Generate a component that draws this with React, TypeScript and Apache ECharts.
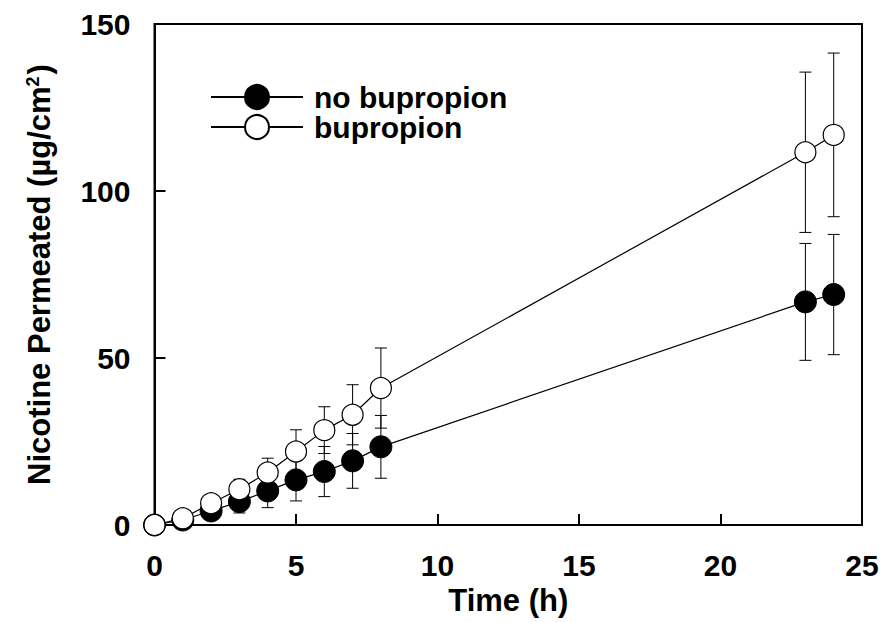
import React, { useEffect, useRef } from "react";
import * as echarts from "echarts";

const times = [0, 1, 2, 3, 4, 5, 6, 7, 8, 23, 24];
const noBupropion = [0, 1.5, 4.2, 7, 10.2, 13.5, 16, 19.2, 23.4, 66.8, 69];
const noBupropionErr = [0, 0.5, 1.5, 3.4, 5, 6.3, 7.5, 8.2, 9.4, 17.5, 18];
const bupropion = [0, 2, 6.5, 10.7, 15.7, 22, 28.4, 33, 41, 111.6, 116.8];
const bupropionErr = [0, 0.5, 1.5, 3, 4.3, 6.5, 7, 9, 12, 24, 24.5];
const xTicks = [0, 5, 10, 15, 20, 25];
const yTicks = [0, 50, 100, 150];

const FONT = "'Liberation Sans', Arial, sans-serif";

function errSeries(vals: number[], errs: number[]) {
  return {
    type: "custom",
    z: 1,
    silent: true,
    data: times.map((t, i) => [t, vals[i] - errs[i], vals[i] + errs[i]]),
    renderItem: (params: any, api: any) => {
      const x = api.value(0);
      const lo = api.coord([x, api.value(1)]);
      const hi = api.coord([x, api.value(2)]);
      const cw = 6;
      const style = { stroke: "#000", lineWidth: 1 };
      return {
        type: "group",
        children: [
          { type: "line", shape: { x1: lo[0], y1: lo[1], x2: hi[0], y2: hi[1] }, style },
          { type: "line", shape: { x1: lo[0] - cw, y1: lo[1], x2: lo[0] + cw, y2: lo[1] }, style },
          { type: "line", shape: { x1: hi[0] - cw, y1: hi[1], x2: hi[0] + cw, y2: hi[1] }, style },
        ],
      };
    },
  };
}

export default function App() {
  const ref = useRef<HTMLDivElement>(null);
  useEffect(() => {
    const chart = echarts.init(ref.current!, null, { renderer: "svg" });
    chart.setOption({
      animation: false,
      backgroundColor: "#fff",
      grid: { left: 154.5, top: 24, right: 31, bottom: 97, show: false },
      legend: {
        orient: "vertical",
        left: 210,
        top: 82,
        padding: 0,
        itemWidth: 92,
        itemHeight: 30,
        itemGap: 0,
        data: ["no bupropion", "bupropion"],
        textStyle: { fontFamily: FONT, fontWeight: "bold", fontSize: 30, lineHeight: 30, color: "#000", padding: [0, 0, 0, 6] },
      },
      xAxis: {
        type: "value",
        min: 0,
        max: 25,
        interval: 5,
        name: "Time (h)",
        nameLocation: "middle",
        nameGap: 60,
        nameTextStyle: { fontFamily: FONT, fontWeight: "bold", fontSize: 31, color: "#000" },
        axisLine: { show: true, onZero: false, lineStyle: { color: "#000", width: 2 } },
        axisTick: { show: true, inside: true, length: 11, lineStyle: { color: "#000", width: 2 } },
        axisLabel: {
          fontFamily: FONT, fontWeight: "bold", fontSize: 30, color: "#000", margin: 25,
          formatter: (v: number) => (xTicks.includes(v) ? String(v) : ""),
        },
        splitLine: { show: false },
      },
      yAxis: {
        type: "value",
        min: 0,
        max: 150,
        interval: 50,
        name: "Nicotine Permeated (µg/cm{sup|2})",
        nameLocation: "middle",
        nameGap: 99,
        nameRotate: 90,
        nameTextStyle: {
          fontFamily: FONT, fontWeight: "bold", fontSize: 31, color: "#000",
          rich: { sup: { fontFamily: FONT, fontWeight: "bold", fontSize: 18, color: "#000", verticalAlign: "top", padding: [0, 2, 14, 0] } },
        },
        axisLine: { show: true, onZero: false, lineStyle: { color: "#000", width: 2 } },
        axisTick: { show: true, inside: true, length: 11, lineStyle: { color: "#000", width: 2 } },
        axisLabel: {
          fontFamily: FONT, fontWeight: "bold", fontSize: 30, color: "#000", margin: 24,
          formatter: (v: number) => (yTicks.includes(v) ? String(v) : ""),
        },
        splitLine: { show: false },
      },
      graphic: [
        {
          type: "rect",
          silent: true,
          z: 0,
          shape: { x: 154.5, y: 24, width: 893 - 31 - 154.5, height: 622 - 97 - 24 },
          style: { fill: "none", stroke: "#000", lineWidth: 2 },
        },
      ],
      series: [
        errSeries(noBupropion, noBupropionErr),
        errSeries(bupropion, bupropionErr),
        {
          name: "no bupropion",
          type: "line",
          z: 3,
          data: times.map((t, i) => [t, noBupropion[i]]),
          symbol: "circle",
          symbolSize: 22,
          lineStyle: { color: "#000", width: 1.2 },
          itemStyle: { color: "#000", borderColor: "#000", borderWidth: 1 },
        },
        {
          name: "bupropion",
          type: "line",
          z: 4,
          data: times.map((t, i) => [t, bupropion[i]]),
          symbol: "circle",
          symbolSize: 21,
          lineStyle: { color: "#000", width: 1.2 },
          itemStyle: { color: "#fff", borderColor: "#000", borderWidth: 1.2 },
        },
      ],
    });
    return () => chart.dispose();
  }, []);
  return <div ref={ref} style={{ width: 893, height: 622, position: "absolute", left: 0, top: 0 }} />;
}
